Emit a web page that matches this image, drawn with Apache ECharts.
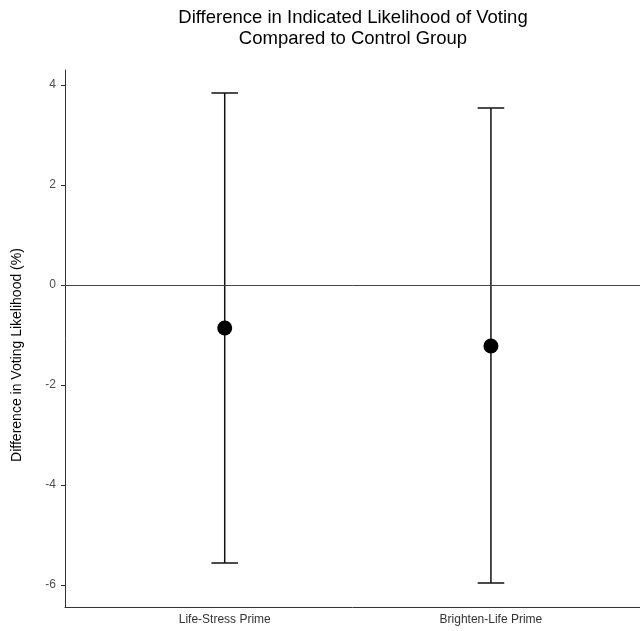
<!DOCTYPE html>
<html><head><meta charset="utf-8">
<script src="https://cdn.jsdelivr.net/npm/echarts@6/dist/echarts.min.js"></script>
<style>html,body{margin:0;padding:0;background:#fff}#c{width:640px;height:631px}</style>
</head><body><div id="c"></div>
<script>
const categories = ["Life-Stress Prime", "Brighten-Life Prime"];
const pointEstimates = [-0.86, -1.22];
const upperBounds = [3.84, 3.54];
const lowerBounds = [-5.56, -5.96];
const yTicks = [-6, -4, -2, 0, 2, 4];

const positions = categories.map((c, i) => i + 1);
const font = "'Liberation Sans', Arial, Helvetica, sans-serif";

const chart = echarts.init(document.getElementById('c'), null, {renderer: 'canvas'});
chart.setOption({
  animation: false,
  backgroundColor: '#ffffff',
  graphic: [
    {
      type: 'text', x: 353, y: 18,
      style: {text: 'Difference in Indicated Likelihood of Voting', fontFamily: font, fontSize: 18.5, fill: '#000',
              align: 'center', verticalAlign: 'middle'}
    },
    {
      type: 'text', x: 353, y: 39,
      style: {text: 'Compared to Control Group', fontFamily: font, fontSize: 18.5, fill: '#000',
              align: 'center', verticalAlign: 'middle'}
    },
    {
      type: 'text', x: 17, y: 355, rotation: Math.PI / 2,
      style: {text: 'Difference in Voting Likelihood (%)', fontFamily: font, fontSize: 14, fill: '#000',
              align: 'center', verticalAlign: 'middle'}
    }
  ],
  grid: {left: 65, right: 0, top: 70, bottom: 24, containLabel: false},
  xAxis: {
    type: 'value', min: 0.4, max: 2.56,
    splitLine: {show: false},
    axisLine: {show: true, onZero: false, lineStyle: {color: '#333', width: 1}},
    axisTick: {show: false},
    axisLabel: {
      customValues: positions,
      formatter: v => categories[Math.round(v) - 1] || '',
      fontFamily: font, fontSize: 12, color: '#333', margin: 7
    }
  },
  yAxis: {
    type: 'value', min: -6.44, max: 4.3,
    splitLine: {show: false},
    axisLine: {show: true, onZero: false, lineStyle: {color: '#333', width: 1}},
    axisTick: {show: true, length: 4, lineStyle: {color: '#333'}, customValues: yTicks},
    axisLabel: {customValues: yTicks, fontFamily: font, fontSize: 12, color: '#4d4d4d', margin: 9}
  },
  series: [
    {
      type: 'custom',
      data: positions.map((p, i) => [p, lowerBounds[i], upperBounds[i]]),
      renderItem: function (params, api) {
        const x = api.value(0), lo = api.value(1), hi = api.value(2);
        const top = api.coord([x, hi]);
        const bot = api.coord([x, lo]);
        const capL = api.coord([x - 0.05, hi])[0];
        const capR = api.coord([x + 0.05, hi])[0];
        const st = {stroke: '#111', lineWidth: 1.5};
        return {type: 'group', children: [
          {type: 'line', shape: {x1: top[0], y1: top[1], x2: bot[0], y2: bot[1]}, style: st},
          {type: 'line', shape: {x1: capL, y1: top[1], x2: capR, y2: top[1]}, style: st},
          {type: 'line', shape: {x1: capL, y1: bot[1], x2: capR, y2: bot[1]}, style: st}
        ]};
      },
      z: 2
    },
    {
      type: 'scatter',
      data: positions.map((p, i) => [p, pointEstimates[i]]),
      symbol: 'circle', symbolSize: 15,
      itemStyle: {color: '#000', opacity: 1},
      z: 3,
      markLine: {
        silent: true, symbol: 'none',
        label: {show: false},
        lineStyle: {color: '#444', width: 1, type: 'solid'},
        data: [{yAxis: 0}]
      }
    }
  ]
});
</script></body></html>
